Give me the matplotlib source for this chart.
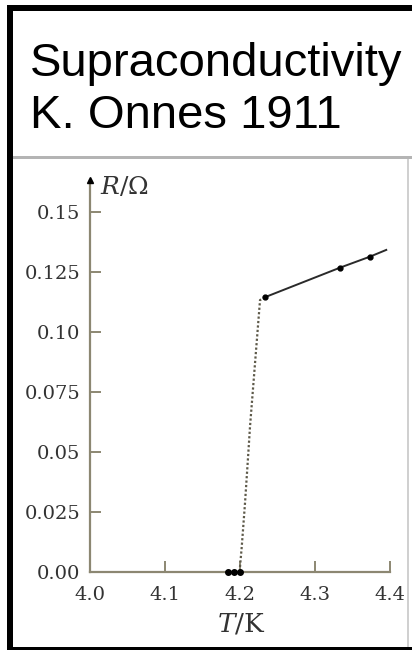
import matplotlib
matplotlib.use("Agg")
import matplotlib.pyplot as plt
from matplotlib.patches import Rectangle

# measured points (T in K, R in Ohm)
t_normal = [4.2333, 4.3333, 4.3733]
r_normal = [0.1145, 0.1268, 0.1314]
t_line = [4.2333, 4.3333, 4.3733, 4.395]
r_line = [0.1145, 0.1268, 0.1314, 0.1342]
t_drop = [4.2333, 4.2267, 4.2133, 4.2111, 4.2067, 4.2023, 4.2, 4.2]
r_drop = [0.1145, 0.1133, 0.0604, 0.0496, 0.0288, 0.0104, 0.0021, 0.0]
t_super = [4.1844, 4.192, 4.2]
r_super = [0.0, 0.0, 0.0]

x_ticks = [4.0, 4.1, 4.2, 4.3, 4.4]
x_labels = ["4.0", "4.1", "4.2", "4.3", "4.4"]
y_ticks = [0.0, 0.025, 0.05, 0.075, 0.10, 0.125, 0.15]
y_labels = ["0.00", "0.025", "0.05", "0.075", "0.10", "0.125", "0.15"]

W, H = 412, 650
plt.rcParams["mathtext.fontset"] = "dejavuserif"

fig = plt.figure(figsize=(W / 100, H / 100), dpi=100)
fig.patch.set_facecolor("white")


def fx(px):
    return px / W


def fy(py):
    return 1 - py / H


def rect(x0, y0, x1, y1, color):
    fig.add_artist(Rectangle((fx(x0), fy(y1)), fx(x1 - x0), (y1 - y0) / H,
                             transform=fig.transFigure, facecolor=color,
                             edgecolor="none", zorder=5))


# frame around the slide
rect(7, 5, W, 11, "black")
rect(7, 5, 13, H, "black")
rect(7, 647, W, H, "black")
rect(13, 156, W, 159, "#b4b4b4")
rect(407, 159, 409, 647, "#d0d0d0")

fig.text(fx(30), fy(76), "Supraconductivity", fontsize=34,
         family="Liberation Sans", color="black", va="baseline")
fig.text(fx(30), fy(128), "K. Onnes 1911", fontsize=34,
         family="Liberation Sans", color="black", va="baseline")

axis_col = "#8c8772"
text_col = "#333333"

ax = fig.add_axes([fx(90), fy(572), fx(300), (572 - 180) / H])
ax.set_xlim(4.0, 4.4)
ax.set_ylim(0.0, 392 / 2400)
for s in ["top", "right"]:
    ax.spines[s].set_visible(False)
for s in ["left", "bottom"]:
    ax.spines[s].set_color(axis_col)
    ax.spines[s].set_linewidth(1.6)

ax.set_xticks(x_ticks)
ax.set_xticklabels(x_labels)
ax.set_yticks(y_ticks)
ax.set_yticklabels(y_labels)
ax.tick_params(axis="both", direction="in", length=8, width=1.4,
               color=axis_col, labelcolor=text_col, labelsize=14)
ax.tick_params(axis="x", pad=10)
ax.tick_params(axis="y", pad=7)
for lab in ax.get_xticklabels() + ax.get_yticklabels():
    lab.set_family("DejaVu Serif")

ax.plot(t_drop, r_drop, linestyle=(0, (1, 1)), color="#5e5a4a", lw=1.6,
        zorder=2, clip_on=False)
ax.plot(t_line, r_line, color="#2a2a2a", lw=1.4, zorder=3, clip_on=False)
ax.plot(t_normal, r_normal, "o", color="black", ms=3.5, zorder=4)
ax.plot(t_super, r_super, "o", color="black", ms=4, zorder=4, clip_on=False)

# arrow head at top of y axis
ax.plot([0], [1], "^", color="black", ms=5, transform=ax.transAxes,
        clip_on=False, zorder=5)

fig.text(fx(100), fy(187), r"$R/\Omega$", fontsize=18, color=text_col,
         va="center", ha="left")
fig.text(fx(241), fy(624), r"$T/\mathrm{K}$", fontsize=19, color=text_col,
         va="center", ha="center")

fig.savefig("out.png", dpi=100)
